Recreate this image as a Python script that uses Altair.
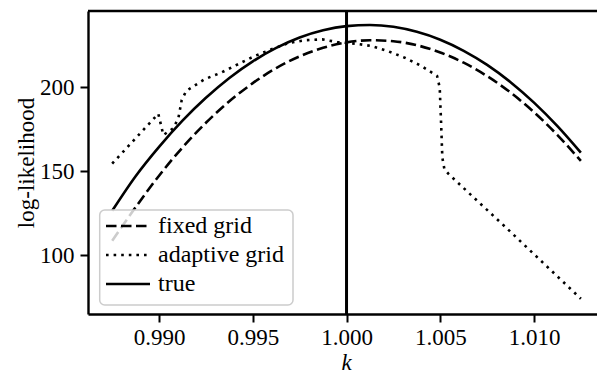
import altair as alt
import pandas as pd

# ---------------- data ----------------
k_grid = [0.9875, 0.98875, 0.99, 0.99125, 0.9925, 0.99375, 0.995, 0.99625, 0.9975,
          0.99875, 1.0, 1.00125, 1.0025, 1.00375, 1.005, 1.00625, 1.0075, 1.00875,
          1.01, 1.01125, 1.0125]
true_vals = [126.4, 147.0, 164.5, 180.1, 193.7, 205.5, 215.4, 223.4, 229.6, 233.9,
             236.4, 237.1, 236.0, 233.0, 228.3, 221.7, 213.3, 203.0, 190.8, 176.8, 161.0]
fixed_vals = [108.5, 128.5, 147.3, 164.1, 178.8, 191.6, 202.4, 211.4, 218.4, 223.5,
              226.7, 228.0, 227.4, 225.0, 220.7, 214.6, 206.6, 196.8, 185.1, 171.5, 156.1]

k_adapt = [0.9875, 0.98996, 0.99023, 0.99076, 0.99103, 0.99121, 0.99145, 0.99244,
           0.99332, 0.99421, 0.9951, 0.996, 0.9969, 0.9978, 0.9987, 0.9995, 1.0005,
           1.0013, 1.0022, 1.0031, 1.004, 1.00483, 1.00497, 1.00504, 1.00511, 1.00522,
           1.00545, 1.0084, 1.0125]
adapt_vals = [154.5, 184.2, 171.5, 175.6, 181.5, 192.4, 197.8, 204.8, 208.7, 213.7,
              218.6, 222.6, 226.3, 228.0, 228.5, 226.9, 225.9, 224.6, 221.5, 217.6,
              212.6, 206.7, 199.8, 179.9, 158.1, 151.2, 148.2, 117.5, 74.0]

k_marker = [1.0]
legend_labels = ["fixed grid", "adaptive grid", "true"]
x_ticks = [0.990, 0.995, 1.000, 1.005, 1.010]
y_ticks = [100, 150, 200]

# ---------------- layout / style ----------------
W, H = 509, 303
FONT = "'Liberation Serif', 'Times New Roman', Times, serif"
FS = 23
FS_LEG = 24
LW = 2.6
dashes = {"fixed grid": [10.5, 4.5], "adaptive grid": [2.6, 5.0], "true": [1, 0]}

x_scale = alt.Scale(domain=[0.98621, 1.01336], nice=False, zero=False)
y_scale = alt.Scale(domain=[64.9, 245.4], nice=False, zero=False)

x_axis = alt.Axis(values=x_ticks, format=".3f", title="k", titleFontStyle="italic",
                  titleFontWeight="normal", titleX=258, titleY=55,
                  titleBaseline="alphabetic", titleAlign="center", grid=False,
                  tickSize=8, tickWidth=2, domainWidth=2.4, labelPadding=4,
                  labelFlush=False)
y_axis = alt.Axis(values=y_ticks, title="log-likelihood", titleFontWeight="normal",
                  titleX=-55, titleY=H / 2, titleAngle=270, titleBaseline="alphabetic",
                  titleAlign="center", grid=False, tickSize=8, tickWidth=2,
                  domainWidth=2.4, labelPadding=6)

df_true = pd.DataFrame({"k": k_grid, "v": true_vals})
df_fixed = pd.DataFrame({"k": k_grid, "v": fixed_vals})
df_adapt = pd.DataFrame({"k": k_adapt, "v": adapt_vals})

fixed_line = alt.Chart(df_fixed).mark_line(
    color="black", strokeWidth=LW, strokeDash=dashes["fixed grid"], interpolate="monotone"
).encode(x=alt.X("k:Q", scale=x_scale, axis=x_axis), y=alt.Y("v:Q", scale=y_scale, axis=y_axis))

adapt_line = alt.Chart(df_adapt).mark_line(
    color="black", strokeWidth=LW, strokeDash=dashes["adaptive grid"], strokeCap="butt"
).encode(x=alt.X("k:Q", scale=x_scale), y=alt.Y("v:Q", scale=y_scale))

true_line = alt.Chart(df_true).mark_line(
    color="black", strokeWidth=LW, interpolate="monotone"
).encode(x=alt.X("k:Q", scale=x_scale), y=alt.Y("v:Q", scale=y_scale))

vline = alt.Chart(pd.DataFrame({"k": k_marker})).mark_rule(
    color="black", strokeWidth=3
).encode(x=alt.X("k:Q", scale=x_scale))

one = pd.DataFrame({"a": [0]})
top_spine = alt.Chart(one).mark_rule(color="black", strokeWidth=2.4).encode(
    x=alt.value(0), x2=alt.value(W), y=alt.value(0))

legend_box = alt.Chart(one).mark_rect(
    fill="white", fillOpacity=0.8, stroke="#cccccc", strokeWidth=1.5, cornerRadius=5
).encode(x=alt.value(11.7), x2=alt.value(205), y=alt.value(199), y2=alt.value(294))

layers = [fixed_line, adapt_line, true_line, vline, top_spine, legend_box]
row_y = [215, 244, 273]
for lab, ry in zip(legend_labels, row_y):
    rule_kwargs = dict(color="black", strokeWidth=LW, strokeCap="butt")
    if lab != "true":
        rule_kwargs["strokeDash"] = dashes[lab]
    layers.append(alt.Chart(one).mark_rule(**rule_kwargs).encode(
        x=alt.value(18), x2=alt.value(62), y=alt.value(ry)))
    layers.append(alt.Chart(pd.DataFrame({"t": [lab]})).mark_text(
        font=FONT, fontSize=FS_LEG, align="left", baseline="middle", color="black"
    ).encode(text="t:N", x=alt.value(70), y=alt.value(ry)))

chart = alt.layer(*layers).properties(
    width=W, height=H,
    autosize=alt.AutoSizeParams(type="none"),
    padding={"left": 88, "top": 11, "right": 0, "bottom": 59},
).configure_view(strokeWidth=0).configure_axis(
    labelFont=FONT, titleFont=FONT, labelFontSize=FS, titleFontSize=FS,
    labelColor="black", titleColor="black", tickColor="black", domainColor="black",
)

chart.save("out.html", embed_options={"renderer": "svg", "actions": False})
